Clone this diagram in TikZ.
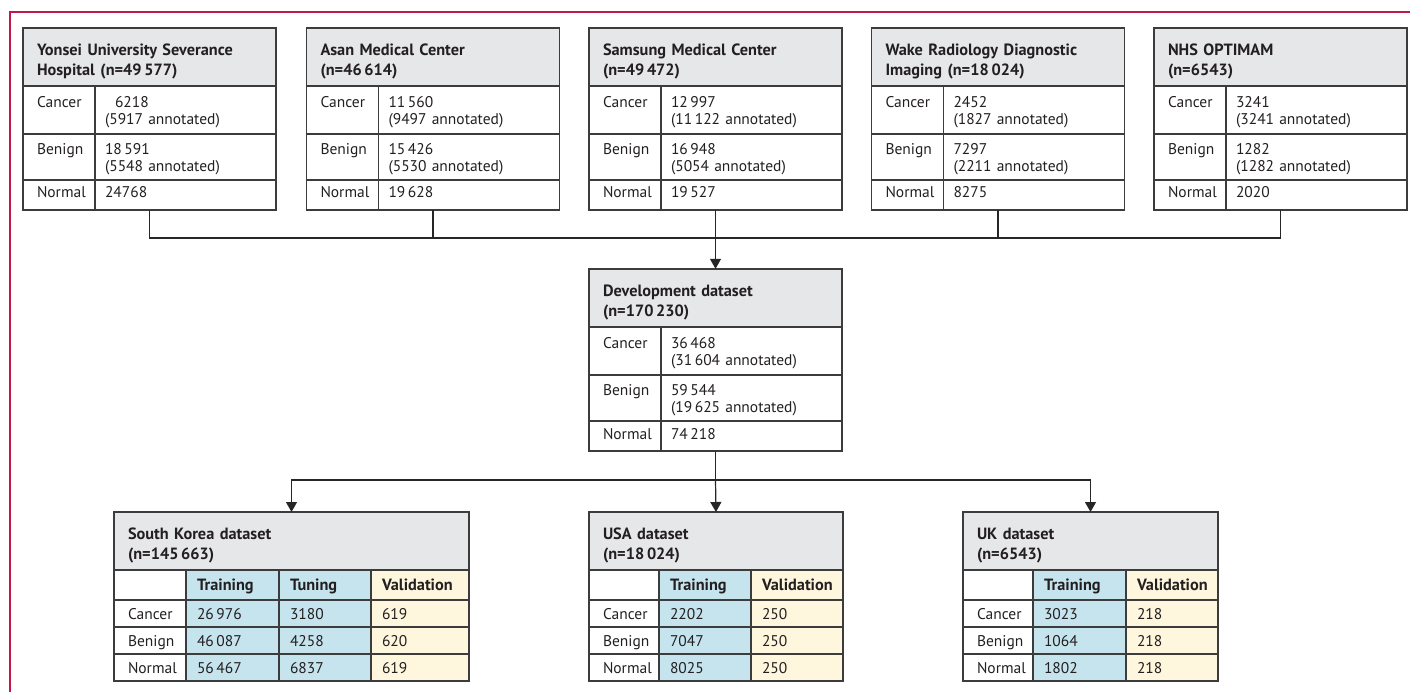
\documentclass[tikz,border=0pt]{standalone}
\usepackage{fontspec}
\setmainfont{PT Sans}
\usetikzlibrary{positioning,fit,arrows.meta}

\definecolor{boxline}{RGB}{60,60,60}
\definecolor{hdrgray}{RGB}{230,231,233}
\definecolor{trainblue}{RGB}{198,228,238}
\definecolor{valcream}{RGB}{255,246,222}
\definecolor{edgered}{RGB}{196,22,72}
\definecolor{txt}{RGB}{35,31,32}

\tikzset{
  cell/.style={draw=boxline, line width=1.3pt, outer sep=0pt, inner ysep=0pt,
    align=left, text=txt, font=\fontsize{15.5}{17}\selectfont},
  hdr/.style={cell, fill=hdrgray, inner xsep=14pt, text width=#1, minimum height=58pt,
    text height=13.5pt, text depth=16.5pt, font=\fontsize{16.3}{20}\selectfont\bfseries},
  lab/.style={cell, inner xsep=14pt, text width=#1},
  val/.style={cell, inner xsep=10pt, text width=161pt},
  trn/.style={cell, fill=trainblue, inner xsep=11pt, text width=#1},
  vld/.style={cell, fill=valcream, inner xsep=11pt, text width=#1},
  two/.style={text height=11pt, text depth=16pt},
  one/.style={minimum height=30pt, text height=11pt, text depth=5pt},
  colhd/.style={minimum height=30pt, text height=11pt, text depth=0pt,
    font=\fontsize{16.3}{17}\selectfont\bfseries},
  drow/.style={minimum height=27pt, text height=11pt, text depth=0pt},
  conn/.style={draw=black!85, line width=1.2pt},
  arr/.style={conn, -{Triangle[width=11pt,length=10pt]}}
}

\begin{document}
\begin{tikzpicture}[x=1pt, y=-1pt]
\useasboundingbox (0,0) rectangle (1410,692);
\draw[edgered, line width=1.4pt] (10,692) -- (10,12) -- (1410,12);

% source sites
\foreach \i/\x/\site/\ca/\be/\no in {
  1/23/{Yonsei University Severance\\Hospital (n=49\,577)}/{\hspace*{10pt}6218\\(5917 annotated)}/{18\,591\\(5548 annotated)}/24768,
  2/306.5/{Asan Medical Center\\(n=46\,614)}/{11\,560\\(9497 annotated)}/{15\,426\\(5530 annotated)}/19\,628,
  3/589/{Samsung Medical Center\\(n=49\,472)}/{12\,997\\(11\,122 annotated)}/{16\,948\\(5054 annotated)}/19\,527,
  4/871.5/{Wake Radiology Diagnostic\\Imaging (n=18\,024)}/{2452\\(1827 annotated)}/{7297\\(2211 annotated)}/8275,
  5/1154/{NHS OPTIMAM\\(n=6543)}/{3241\\(3241 annotated)}/{1282\\(1282 annotated)}/2020}{
  \node[hdr=225pt, anchor=north west] (h\i) at (\x,28) {\site};
  \node[lab=44pt, two, minimum height=48pt, below right=0pt of h\i.south west] (c\i) {Cancer};
  \node[val, two, minimum height=48pt, right=0pt of c\i] (cv\i) {\ca};
  \node[lab=44pt, two, minimum height=46pt, below=0pt of c\i] (b\i) {Benign};
  \node[val, two, minimum height=46pt, right=0pt of b\i] (bv\i) {\be};
  \node[lab=44pt, one, below=0pt of b\i] (n\i) {Normal};
  \node[val, one, right=0pt of n\i] (nv\i) {\no};
  \node[fit=(h\i)(nv\i), inner sep=0pt] (src\i) {};
}

% development dataset
\node[hdr=225pt, anchor=north west] (dh) at (589,269) {Development dataset\\(n=170\,230)};
\node[lab=44pt, two, minimum height=48pt, below right=0pt of dh.south west] (dc) {Cancer};
\node[val, two, minimum height=48pt, right=0pt of dc] (dcv) {36\,468\\(31\,604 annotated)};
\node[lab=44pt, two, minimum height=46pt, below=0pt of dc] (db) {Benign};
\node[val, two, minimum height=46pt, right=0pt of db] (dbv) {59\,544\\(19\,625 annotated)};
\node[lab=44pt, one, below=0pt of db] (dn) {Normal};
\node[val, one, right=0pt of dn] (dnv) {74\,218};
\node[fit=(dh)(dnv), inner sep=0pt] (dev) {};

% South Korea
\node[hdr=327pt, anchor=north west] (skh) at (114,512) {South Korea dataset\\(n=145\,663)};
\node[lab=44pt, colhd, below right=0pt of skh.south west] (sk0) {};
\node[trn=71pt, colhd, right=0pt of sk0] (sk0a) {Training};
\node[trn=70pt, colhd, right=0pt of sk0a] (sk0b) {Tuning};
\node[vld=76pt, colhd, right=0pt of sk0b] (sk0c) {Validation};
\foreach \r/\rowname/\a/\b/\c [remember=\r as \p (initially 0)] in
  {1/Cancer/26\,976/3180/619, 2/Benign/46\,087/4258/620, 3/Normal/56\,467/6837/619}{
  \node[lab=44pt, drow, below=0pt of sk\p] (sk\r) {\rowname};
  \node[trn=71pt, drow, right=0pt of sk\r] (sk\r a) {\a};
  \node[trn=70pt, drow, right=0pt of sk\r a] (sk\r b) {\b};
  \node[vld=76pt, drow, right=0pt of sk\r b] (sk\r c) {\c};
}

% USA
\node[hdr=226pt, anchor=north west] (ush) at (589,512) {USA dataset\\(n=18\,024)};
\node[lab=42pt, colhd, below right=0pt of ush.south west] (us0) {};
\node[trn=70pt, colhd, right=0pt of us0] (us0a) {Training};
\node[vld=70pt, colhd, right=0pt of us0a] (us0b) {Validation};
\foreach \r/\rowname/\a/\b [remember=\r as \p (initially 0)] in
  {1/Cancer/2202/250, 2/Benign/7047/250, 3/Normal/8025/250}{
  \node[lab=42pt, drow, below=0pt of us\p] (us\r) {\rowname};
  \node[trn=70pt, drow, right=0pt of us\r] (us\r a) {\a};
  \node[vld=70pt, drow, right=0pt of us\r a] (us\r b) {\b};
}

% UK
\node[hdr=227pt, anchor=north west] (ukh) at (963,512) {UK dataset\\(n=6543)};
\node[lab=42pt, colhd, below right=0pt of ukh.south west] (uk0) {};
\node[trn=71pt, colhd, right=0pt of uk0] (uk0a) {Training};
\node[vld=70pt, colhd, right=0pt of uk0a] (uk0b) {Validation};
\foreach \r/\rowname/\a/\b [remember=\r as \p (initially 0)] in
  {1/Cancer/3023/218, 2/Benign/1064/218, 3/Normal/1802/218}{
  \node[lab=42pt, drow, below=0pt of uk\p] (uk\r) {\rowname};
  \node[trn=71pt, drow, right=0pt of uk\r] (uk\r a) {\a};
  \node[vld=70pt, drow, right=0pt of uk\r a] (uk\r b) {\b};
}

% connectors
\coordinate (merge) at (715.5,238);
\coordinate (split) at (715.5,480);
\foreach \i in {1,...,5}
  \draw[conn] (src\i.south) |- (merge);
\draw[arr] (merge) -- (dev.north);
\draw[conn] (dev.south) -- (split);
\draw[arr] (split) -| (skh.north);
\draw[arr] (split) -- (ush.north);
\draw[arr] (split) -| (ukh.north);
\end{tikzpicture}
\end{document}
